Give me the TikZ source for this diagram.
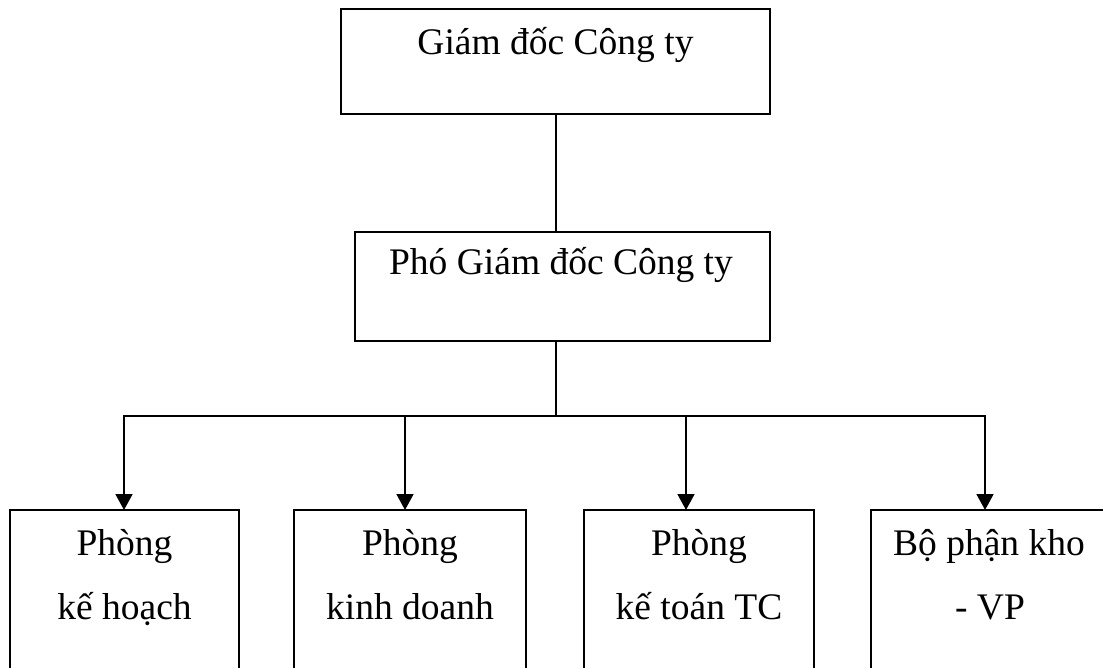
\documentclass[tikz,border=0pt]{standalone}
\usepackage{fontspec}
\setmainfont{Liberation Serif}
\usetikzlibrary{arrows.meta}
\begin{document}
\begin{tikzpicture}[x=1pt,y=-1pt,
  box/.style={draw,line width=1.8pt,rectangle,anchor=north west,inner sep=0pt,outer sep=0pt},
  lbl/.style={anchor=base,inner sep=0pt,font=\fontsize{37.5}{44}\selectfont},
  link/.style={line width=1.8pt,line join=miter},
  down/.style={link,-{Triangle[width=17pt,length=16pt]}}]
\useasboundingbox (0,0) rectangle (1103,668);
\begin{scope}
\clip (0,0) rectangle (1103,668);
% boxes
\node[box,minimum width=429pt,minimum height=105pt] (gd) at (341,9) {};
\node[box,minimum width=415pt,minimum height=109pt] (pgd) at (355,232) {};
\node[box,minimum width=229pt,minimum height=180pt] (kh) at (10,510) {};
\node[box,minimum width=232pt,minimum height=180pt] (kd) at (294,510) {};
\node[box,minimum width=230pt,minimum height=180pt] (kt) at (584,510) {};
\node[box,minimum width=237pt,minimum height=180pt] (kho) at (871,510) {};
% labels
\node[lbl] (gdt) at (555.5,55) {Giám đốc Công ty};
\node[lbl] (pgdt) at (561,275) {Phó Giám đốc Công ty};
\node[lbl] (kh1) at (124.5,555) {Phòng};
\node[lbl] (kh2) at (124.5,619) {kế hoạch};
\node[lbl] (kd1) at (410,555) {Phòng};
\node[lbl] (kd2) at (410,619) {kinh doanh};
\node[lbl] (kt1) at (699,555) {Phòng};
\node[lbl] (kt2) at (699,619) {kế toán TC};
\node[lbl] (kho1) at (989,555) {Bộ phận kho};
\node[lbl] (kho2) at (990,619) {- VP};
% connectors
\coordinate (split) at (556,416);
\coordinate (t1) at (124,416);
\coordinate (t2) at (405,416);
\coordinate (t3) at (686,416);
\coordinate (t4) at (985,416);
\draw[link] (split |- gd.south) -- (split |- pgd.north);
\draw[link] (split |- pgd.south) -- (split);
\draw[link] (t2) -- (t3);
\draw[down] (t2) -- (t1) -- (t1 |- kh.north);
\draw[down] (t2) -- (t2 |- kd.north);
\draw[down] (t3) -- (t3 |- kt.north);
\draw[down] (t3) -- (t4) -- (t4 |- kho.north);
\end{scope}
\end{tikzpicture}
\end{document}
